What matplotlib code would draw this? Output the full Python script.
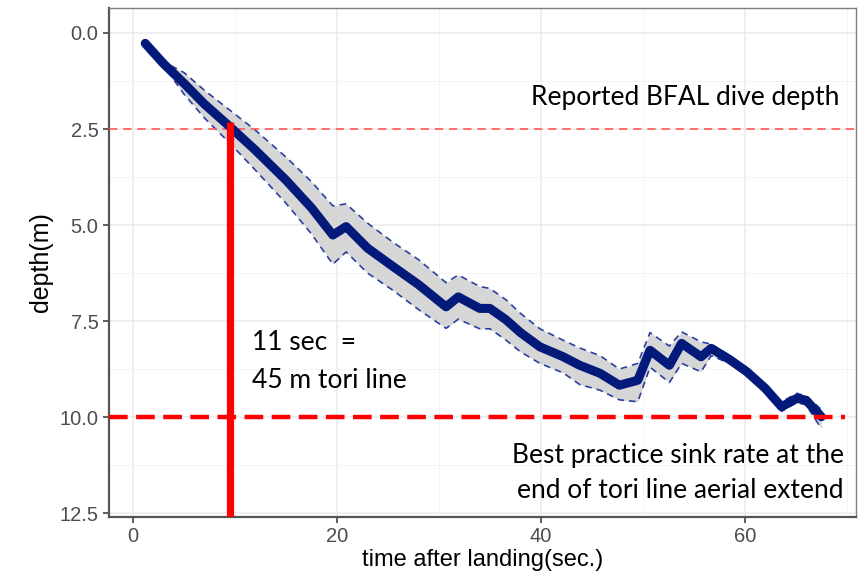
import matplotlib
matplotlib.use("Agg")
import matplotlib.pyplot as plt
from matplotlib.ticker import MultipleLocator

# ---- data ----
time_s = [1.2, 3, 5, 7, 9.5, 12, 15, 17.5, 19.6, 20.9, 23, 25.5, 28, 30.7, 31.9,
          34, 35, 36.6, 38, 39.9, 42.2, 43.8, 45.8, 47.7, 49.5, 50.7, 52.6, 53.8,
          55.7, 56.7, 58.5, 60.2, 62, 63.6, 65.1, 66, 67.5]
depth_mean = [0.27, 0.8, 1.31, 1.85, 2.44, 3.05, 3.83, 4.55, 5.26, 5.04, 5.6, 6.08,
              6.55, 7.13, 6.87, 7.17, 7.17, 7.47, 7.8, 8.17, 8.43, 8.65, 8.86, 9.17,
              9.04, 8.26, 8.65, 8.08, 8.43, 8.21, 8.5, 8.82, 9.25, 9.73, 9.51, 9.56, 9.99]
depth_upper = [0.25, 0.75, 1.03, 1.49, 2.01, 2.53, 3.23, 3.87, 4.5, 4.45, 4.95, 5.45,
               5.9, 6.5, 6.3, 6.6, 6.65, 6.95, 7.3, 7.7, 8.0, 8.2, 8.4, 8.75,
               8.6, 7.8, 8.15, 7.78, 8.04, 8.1, 8.4, 8.72, 9.15, 9.6, 9.38, 9.45, 9.8]
depth_lower = [0.29, 0.85, 1.59, 2.21, 2.87, 3.57, 4.43, 5.23, 6.02, 5.7, 6.25, 6.7,
               7.2, 7.69, 7.45, 7.7, 7.7, 8.0, 8.3, 8.6, 8.85, 9.15, 9.3, 9.55,
               9.6, 8.7, 9.1, 8.6, 8.82, 8.4, 8.6, 8.92, 9.35, 9.85, 9.62, 9.68, 10.3]

bfal_depth = 2.5
best_practice_depth = 10.0
tori_time = 9.47
tori_top = 2.33

x_ticks = [0, 20, 40, 60]
y_ticks = [0.0, 2.5, 5.0, 7.5, 10.0, 12.5]

# ---- figure ----
fig = plt.figure(figsize=(8.68, 5.80), dpi=100)
ax = fig.add_axes([109/868, 63/580, (856-109)/868, (517-8)/580])

ax.set_xlim(-2.35, 70.9)
ax.set_ylim(12.6, -0.65)

ax.set_xticks(x_ticks)
ax.set_yticks(y_ticks)
ax.set_yticklabels([f"{v:.1f}" for v in y_ticks])
ax.xaxis.set_minor_locator(MultipleLocator(10))
ax.yaxis.set_minor_locator(MultipleLocator(1.25))
ax.grid(which="major", color="#ebebeb", lw=1.1, zorder=0)
ax.grid(which="minor", color="#f2f2f2", lw=0.6, zorder=0)
ax.set_axisbelow(True)

ax.tick_params(which="major", direction="out", length=4.5, width=1.1,
               color="#333333", labelsize=14.5, labelcolor="#4d4d4d", pad=3)
ax.tick_params(which="minor", length=0)
for lab in ax.get_xticklabels() + ax.get_yticklabels():
    lab.set_family("Liberation Sans")
    lab.set_fontsize(14.5)

for s in ["top", "right"]:
    ax.spines[s].set_color("#7f7f7f")
    ax.spines[s].set_linewidth(1.0)
for s in ["left", "bottom"]:
    ax.spines[s].set_color("#555555")
    ax.spines[s].set_linewidth(1.6)

# ribbon
ax.fill_between(time_s, depth_upper, depth_lower, color="#d6d6d6", lw=0, zorder=2)
ax.plot(time_s, depth_upper, color="#2b3f9f", lw=1.2, ls=(0, (4, 3)), zorder=3)
ax.plot(time_s, depth_lower, color="#2b3f9f", lw=1.2, ls=(0, (4, 3)), zorder=3)
ax.plot(time_s, depth_mean, color="#031a7a", lw=6.5, solid_capstyle="round",
        solid_joinstyle="round", zorder=4)

# reference lines
ax.axhline(bfal_depth, color="#ff5a5a", lw=1.2, ls=(0, (5, 3.5)), zorder=3)
ax.axhline(best_practice_depth, xmin=0.0, xmax=0.985, color="#ff0000", lw=3.2,
           ls=(0, (4.2, 1.9)), zorder=5)
ax.plot([tori_time, tori_time], [tori_top, 12.6], color="#ff0000", lw=5.2,
        solid_capstyle="butt", zorder=5)

txt_font = "Lato"
fs = 19
ax.text(69.3, 1.67, "Reported BFAL dive depth", ha="right", va="center",
        fontsize=fs, family=txt_font, color="black", zorder=6)
ax.text(11.7, 8.07, "11 sec  =", ha="left", va="center",
        fontsize=fs, family=txt_font, color="black", zorder=6)
ax.text(11.7, 9.04, "45 m tori line", ha="left", va="center",
        fontsize=fs, family=txt_font, color="black", zorder=6)
ax.text(69.7, 11.0, "Best practice sink rate at the", ha="right", va="center",
        fontsize=fs, family=txt_font, color="black", zorder=6)
ax.text(69.7, 11.92, "end of tori line aerial extend", ha="right", va="center",
        fontsize=fs, family=txt_font, color="black", zorder=6)

ax.set_xlabel("time after landing(sec.)", fontsize=17, family="Liberation Sans",
              color="black", labelpad=2)
ax.set_ylabel("depth(m)", fontsize=18, family="Liberation Sans",
              color="black", labelpad=5)

fig.savefig("out.png", dpi=100)
